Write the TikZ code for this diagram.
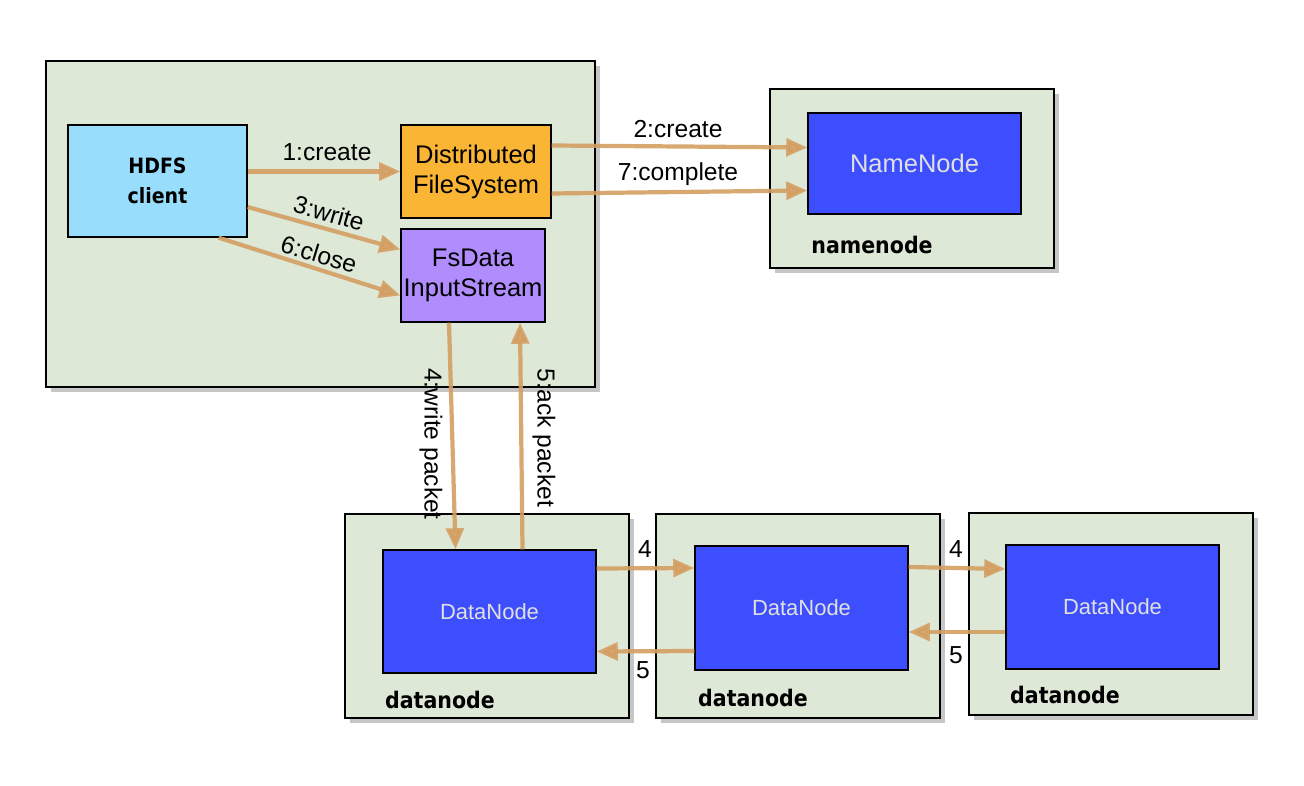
\documentclass[tikz,border=0pt]{standalone}
\usepackage{fontspec}
\setmainfont{Liberation Sans}
\newfontfamily\heavyfont{DejaVu Sans Condensed}
\usetikzlibrary{arrows.meta,shadows,calc}
\definecolor{sage}{RGB}{222,232,215}
\definecolor{clientblue}{RGB}{152,222,252}
\definecolor{dfsorange}{RGB}{251,181,53}
\definecolor{streampurple}{RGB}{176,140,253}
\definecolor{nodeblue}{RGB}{61,78,254}
\definecolor{flowtan}{RGB}{212,158,98}
\tikzset{
  hostbox/.style={draw=black, line width=1.2pt, fill=sage,
    drop shadow={shadow xshift=3pt, shadow yshift=-3pt, opacity=0.45}},
  procbox/.style={draw=black, line width=0.8pt, align=center, inner sep=1pt,
    font=\fontsize{14.5}{17}\selectfont},
  daemon/.style={procbox, fill=nodeblue, text=white!88!black, minimum width=4.26cm,
    font=\fontsize{12.5}{15}\selectfont},
  hostlabel/.style={font=\heavyfont\bfseries\fontsize{13}{15}\selectfont},
  flow/.style={draw=flowtan, opacity=0.9, line width=2.4pt,
    -{Triangle[length=12pt,width=10pt]}},
  flowlabel/.style={inner sep=0pt, font=\fontsize{14}{16}\selectfont}
}
\begin{document}
\begin{tikzpicture}[x=0.02cm,y=-0.02cm]
    \useasboundingbox (0,0) rectangle (1304,786);

    % hosts
    \path[hostbox](46,61) rectangle (595,387);
    \path[hostbox](770,89) rectangle (1054,268);
    \path[hostbox](345,514) rectangle (629,718);
    \path[hostbox](656,514) rectangle (940,718);
    \path[hostbox](969,513) rectangle (1253,715);

    % client side
    \node[procbox, fill=clientblue, minimum width=3.58cm, minimum height=2.24cm,
        font=\heavyfont\bfseries\fontsize{12}{17}\selectfont](client) at (157.5,181){HDFS\\client};
    \node[procbox, fill=dfsorange, minimum width=3cm, minimum height=1.86cm](dfs) at (476,171.5){Distributed\\FileSystem};
    \node[procbox, fill=streampurple, minimum width=2.88cm, minimum height=1.86cm](stream) at (473,275.5){FsData\\InputStream};

    % daemons
    \node[daemon, minimum height=2.02cm, font=\fontsize{14.5}{17}\selectfont](nn) at (914.5,163.5){NameNode};
    \node[daemon, minimum height=2.46cm](dn1) at (489.5,611.5){DataNode};
    \node[daemon, minimum height=2.48cm](dn2) at (801.5,608){DataNode};
    \node[daemon, minimum height=2.48cm](dn3) at (1112.5,607){DataNode};

    \node[hostlabel](nnhost) at (872,245){namenode};
    \node[hostlabel](dnhost1) at (440,700){datanode};
    \node[hostlabel](dnhost2) at (753,698){datanode};
    \node[hostlabel](dnhost3) at (1065,695){datanode};

    % flows
    \draw[flow](client.east |- dfs.west) to (dfs.west);
    \draw[flow]($(dfs.east)+(0,-26)$) to ($(nn.west)+(0,-16)$);
    \draw[flow]($(dfs.east)+(0,22)$) to ($(nn.west)+(0,27)$);
    \draw[flow]($(client.east)+(0,26)$) to ($(stream.west)+(0,-26)$);
    \draw[flow]($(client.south east)+(-29,0)$) to ($(stream.west)+(0,20)$);
    \draw[flow]($(stream.south)+(-24,0)$) to ($(dn1.north)+(-34,0)$);
    \draw[flow]($(dn1.north)+(33,0)$) to ($(stream.south)+(47,0)$);
    \draw[flow]($(dn1.east)+(0,-43)$) to ($(dn2.west)+(0,-40)$);
    \draw[flow]($(dn2.west)+(0,43)$) to ($(dn1.east)+(0,40)$);
    \draw[flow]($(dn2.east)+(0,-41)$) to ($(dn3.west)+(0,-38)$);
    \draw[flow]($(dn3.west)+(0,25)$) to ($(dn2.east)+(0,24)$);

    % labels
    \node[flowlabel](lcreate) at (327,152){1:create};
    \node[flowlabel, rotate=-16](lwrite) at (329,213){3:write};
    \node[flowlabel, rotate=-17](lclose) at (319,254){6:close};
    \node[flowlabel](lnncreate) at (678,129){2:create};
    \node[flowlabel](lcomplete) at (678,174){7:complete};
    \node[flowlabel, rotate=-90](lpacket) at (431,444){4:write packet};
    \node[flowlabel, rotate=-90](lack) at (544,438){5:ack packet};
    \node[flowlabel](lfwd1) at (645,549){4};
    \node[flowlabel](lback1) at (643,670){5};
    \node[flowlabel](lfwd2) at (956,549){4};
    \node[flowlabel](lback2) at (956,655){5};
\end{tikzpicture}
\end{document}
